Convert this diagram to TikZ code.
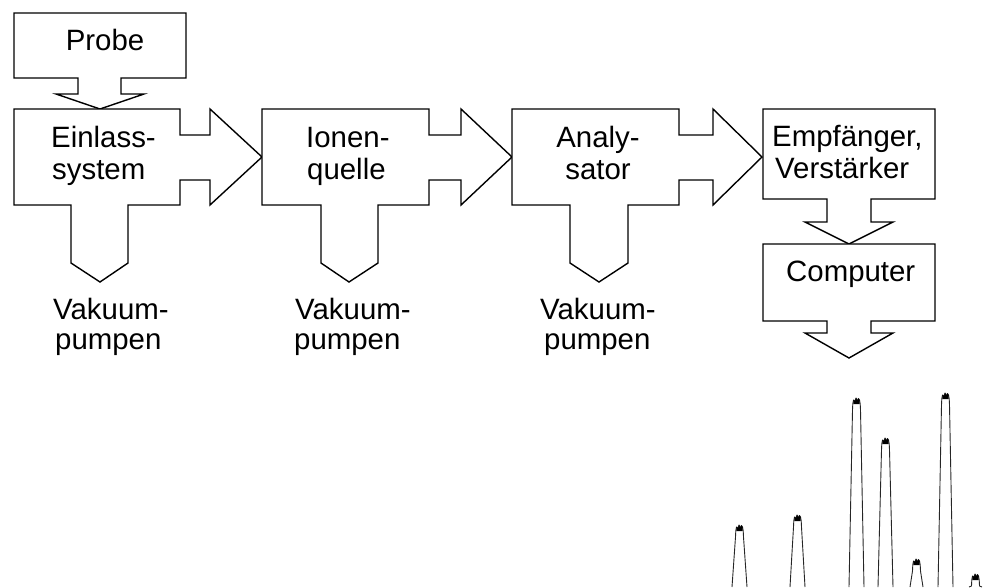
\documentclass[tikz,border=0pt]{standalone}
\usepackage{fontspec}
\setmainfont{Liberation Sans}
\newcommand{\mspeak}[3]{%
  \draw[peakline] ({#1-#3},587) -- ({#1-4},{#2+12}) .. controls ({#1-3.7},{#2+5}) .. ({#1-3},{#2+2})
    -- ({#1-1.5},{#2+3}) -- ({#1-0.5},{#2}) -- ({#1+0.8},{#2+2.5}) -- ({#1+2},{#2+0.5}) -- ({#1+3},{#2+2})
    .. controls ({#1+3.7},{#2+5}) .. ({#1+4},{#2+12}) -- ({#1+#3},587);
  \fill[peakblob] ({#1-3.2},{#2+6}) -- ({#1-3},{#2+2}) -- ({#1-1.5},{#2+3}) -- ({#1-0.5},{#2}) -- ({#1+0.8},{#2+2.5}) -- ({#1+2},{#2+0.5}) -- ({#1+3},{#2+2}) -- ({#1+3.2},{#2+6}) -- cycle;
}
\begin{document}
\begin{tikzpicture}[x=1pt,y=-1pt,
  outline/.style={draw=black,line width=1.4pt,line join=miter,fill=white},
  lbl/.style={inner sep=0pt,anchor=base west,font=\fontsize{29.4}{32}\selectfont},
  clbl/.style={inner sep=0pt,anchor=base,font=\fontsize{29.4}{32}\selectfont},
  peakline/.style={draw=black!85,line width=0.9pt,line join=round},
  peakblob/.style={fill=black}]
\useasboundingbox (0,0) rectangle (983,587);

% Probe
\draw[outline] (14,13) -- (186,13) -- (186,78) -- (121,78) -- (121,94) -- (144,94) -- (100,109)
  -- (56,94) -- (78,94) -- (78,78) -- (14,78) -- cycle;
\node[clbl] (probe) at (105,50) {Probe};

% Einlasssystem
\draw[outline] (14,109) -- (180,109) -- (180,135) -- (210,135) -- (210,109) -- (262,157) -- (210,205)
  -- (210,180) -- (180,180) -- (180,205) -- (128,205) -- (128,263) -- (100,282) -- (71,263)
  -- (71,205) -- (14,205) -- cycle;
\node[lbl] (ein1) at (51,147) {Einlass-};
\node[lbl] (ein2) at (52,179.5) {system};

% Ionenquelle
\draw[outline] (262,109) -- (429,109) -- (429,135) -- (461,135) -- (461,109) -- (512,157) -- (461,205)
  -- (461,180) -- (429,180) -- (429,205) -- (378,205) -- (378,263) -- (349,282) -- (321,263)
  -- (321,205) -- (262,205) -- cycle;
\node[lbl] (ion1) at (306,147) {Ionen-};
\node[lbl] (ion2) at (307,179.5) {quelle};

% Analysator
\draw[outline] (512,109) -- (679,109) -- (679,135) -- (713,135) -- (713,109) -- (762,157) -- (713,205)
  -- (713,180) -- (679,180) -- (679,205) -- (628,205) -- (628,263) -- (599,282) -- (570,263)
  -- (570,205) -- (512,205) -- cycle;
\node[clbl] (ana1) at (598,147) {Analy-};
\node[clbl] (ana2) at (598,179.5) {sator};

% Empfaenger
\draw[outline] (763,109) -- (935,109) -- (935,199) -- (871,199) -- (871,222) -- (893,222) -- (849,244)
  -- (805,222) -- (827,222) -- (827,199) -- (763,199) -- cycle;
\node[lbl] (emp1) at (772,146) {Empfänger,};
\node[lbl] (emp2) at (775,178) {Verstärker};

% Computer
\draw[outline] (763,244) -- (935,244) -- (935,321) -- (871,321) -- (871,333) -- (893,333) -- (849,358)
  -- (805,333) -- (827,333) -- (827,321) -- (763,321) -- cycle;
\node[lbl] (comp) at (786,281) {Computer};

% Vakuumpumpen
\node[lbl] (vak1a) at (53,319) {Vakuum-};
\node[lbl] (vak1b) at (55,349) {pumpen};
\node[lbl] (vak2a) at (295,319) {Vakuum-};
\node[lbl] (vak2b) at (294,349) {pumpen};
\node[lbl] (vak3a) at (540,319) {Vakuum-};
\node[lbl] (vak3b) at (544,349) {pumpen};

% spectrum peaks
\mspeak{739.5}{525}{7.5}
\mspeak{797.5}{515}{7.5}
\mspeak{856.5}{398}{7.5}
\mspeak{885.5}{438}{7.5}
\mspeak{916.5}{559}{6.5}
\mspeak{945.5}{393}{7.5}
\mspeak{975.5}{574}{6.5}
\end{tikzpicture}
\end{document}
